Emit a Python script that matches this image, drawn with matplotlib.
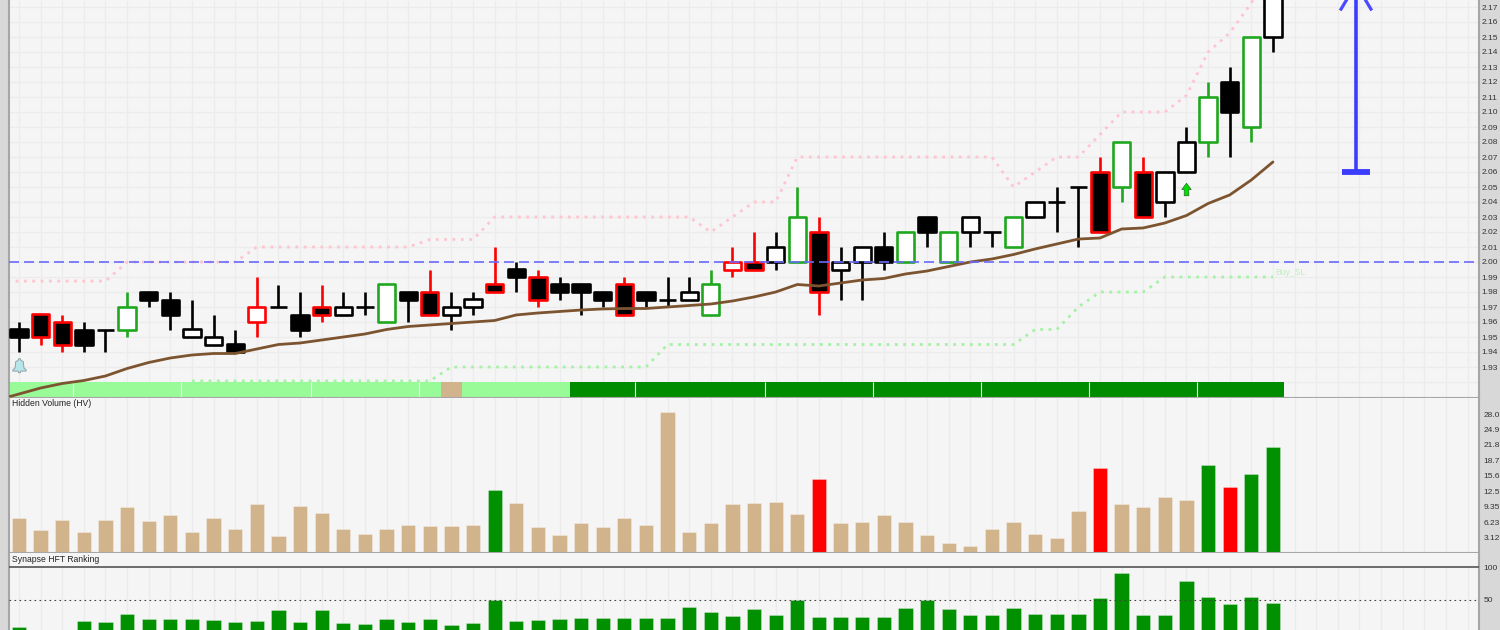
import matplotlib
matplotlib.use("Agg")
import matplotlib.pyplot as plt
from matplotlib.path import Path

plt.rcParams['font.family'] = ['Liberation Sans', 'DejaVu Sans']

opens = [1.955,1.965,1.96,1.955,1.955,1.955,1.98,1.975,1.95,1.945,1.945,1.96,1.97,1.965,1.97,1.965,1.97,1.96,1.98,1.98,
         1.965,1.97,1.985,1.995,1.99,1.985,1.985,1.98,1.985,1.98,1.975,1.975,1.965,1.995,2.00,2.00,2.00,2.02,1.995,2.00,
         2.01,2.00,2.03,2.00,2.02,2.02,2.01,2.03,2.04,2.05,2.06,2.05,2.06,2.04,2.06,2.08,2.12,2.09,2.15]
closes = [1.95,1.95,1.945,1.945,1.955,1.97,1.975,1.965,1.955,1.95,1.94,1.97,1.97,1.955,1.965,1.97,1.97,1.985,1.975,1.965,
          1.97,1.975,1.98,1.99,1.975,1.98,1.98,1.975,1.965,1.975,1.975,1.98,1.985,2.00,1.995,2.01,2.03,1.98,2.00,2.01,
          2.00,2.02,2.02,2.02,2.03,2.02,2.03,2.04,2.04,2.05,2.02,2.08,2.03,2.06,2.08,2.11,2.10,2.15,2.19]
highs = [1.96,1.965,1.965,1.96,1.955,1.98,1.98,1.98,1.975,1.965,1.955,1.99,1.985,1.98,1.985,1.98,1.98,1.985,1.98,1.995,
         1.98,1.98,2.01,2.00,1.995,1.99,1.985,1.98,1.99,1.98,1.99,1.99,1.995,2.01,2.02,2.02,2.05,2.03,2.01,2.01,
         2.02,2.02,2.03,2.02,2.03,2.02,2.03,2.04,2.05,2.05,2.07,2.08,2.07,2.06,2.09,2.12,2.13,2.15,2.19]
lows = [1.94,1.945,1.94,1.94,1.94,1.95,1.97,1.955,1.95,1.945,1.94,1.95,1.97,1.95,1.96,1.965,1.965,1.96,1.96,1.965,
        1.955,1.965,1.98,1.98,1.97,1.975,1.965,1.97,1.965,1.97,1.97,1.975,1.965,1.99,1.995,1.995,2.00,1.965,1.975,1.975,
        1.995,2.00,2.01,2.00,2.01,2.01,2.01,2.03,2.02,2.01,2.02,2.04,2.03,2.03,2.06,2.07,2.07,2.08,2.14]
signals = list("NRRNNGNNNNNRNNRNNGNRNNRNRNNNRNNNGRRNGRNNNGNGNNGNNNRGRNNGNGN")

trend = [1.908,1.912,1.916,1.919,1.921,1.924,1.929,1.933,1.936,1.938,1.939,1.939,1.942,1.945,1.946,1.948,1.950,1.952,1.955,1.957,
         1.958,1.959,1.960,1.961,1.9647,1.966,1.967,1.968,1.9687,1.969,1.969,1.970,1.971,1.972,1.974,1.9767,1.980,1.985,1.984,
         1.986,1.988,1.989,1.992,1.994,1.997,2.000,2.002,2.005,2.0087,2.012,2.0153,2.016,2.022,2.0227,2.026,2.031,2.039,2.0447,
         2.0547,2.0667]
sell_sl = [1.9873,1.9873,1.9873,1.9873,1.9873,1.9873,2.00,2.00,2.00,2.00,2.00,2.00,2.01,2.01,2.01,2.01,2.01,2.01,2.01,2.01,2.015,
           2.015,2.015,2.03,2.03,2.03,2.03,2.03,2.03,2.03,2.03,2.03,2.03,2.02,2.03,2.04,2.04,2.07,2.07,2.07,2.07,
           2.07,2.07,2.07,2.07,2.07,2.07,2.05,2.06,2.07,2.07,2.085,2.10,2.10,2.10,2.111,2.14,2.1527,2.1727,2.20]
buy_sl_start = 8
buy_sl = [1.9207]*12 + [1.93]*10 + [1.945]*17 + [1.955,1.955,1.97,1.98,1.98,1.98,1.99,1.99,1.99,1.99,1.99,1.99]

hv = [7.0,4.6,6.7,4.2,6.7,9.35,6.5,7.6,4.2,7.1,4.85,9.8,3.4,9.5,8.1,4.85,3.8,4.85,5.65,5.5,5.5,5.65,12.7,10.0,5.2,3.6,6.0,5.2,
      7.1,5.65,28.5,4.2,6.0,9.8,10.0,10.3,7.9,14.9,6.0,6.25,7.7,6.25,3.7,1.95,1.35,4.85,6.25,3.85,3.1,8.55,17.2,9.8,9.35,
      11.25,10.65,17.7,13.3,16.0,21.3]
hv_flags = list("TTTTTTTTTTTTTTTTTTTTTTGTTTTTTTTTTTTTTRTTTTTTTTTTTTRTTTTGRGG")
ranking = [8,0,0,17,15,28,20,20,20,18,15,17,34,15,34,14,12,20,15,20,11,14,49,17,18,20,22,22,22,22,22,38,31,25,35,26,49,23,23,
           23,23,37,49,35,26,26,37,28,28,28,52,91,26,26,78,54,43,54,45]
trend_band = list("LLLLLLLLLLLLLLLLLLLLTLLLLLDDDDDDDDDDDDDDDDDDDDDDDDDDDDDDDDDDD")[:59]
period_breaks = [2,7,13,18,28,34,39,44,49,54]

price_ticks = [1.93,1.94,1.95,1.96,1.97,1.98,1.99,2.00,2.01,2.02,2.03,2.04,2.05,2.06,2.07,2.08,2.09,2.10,2.11,2.12,2.13,2.14,2.15,2.16,2.17]
hv_ticks = [3.12,6.23,9.35,12.5,15.6,18.7,21.8,24.9,28.0]
hv_tick_labels = ["3.12","6.23","9.35","12.5","15.6","18.7","21.8","24.9","28.0"]
rank_ticks = [50,100]
ref_level = 2.00
target_x, target_low, target_high = 61.84, 2.06, 2.1853
signal_x, signal_y = 54, 2.0487
alert_x, alert_y = 0, 1.9313

W, H = 1500, 630
BG = '#f5f5f5'; GRID = '#ececec'
fig = plt.figure(figsize=(W/100, H/100), dpi=100, facecolor='#d8d8d8')

def panel(top, bottom, left=9, right=1479):
    ax = fig.add_axes([left/W, 1-bottom/H, (right-left)/W, (bottom-top)/H], facecolor=BG)
    ax.set_xlim(-0.4625, 67.53)
    ax.set_xticks([])
    ax.yaxis.tick_right()
    ax.tick_params(axis='y', length=0, labelsize=6.0, labelcolor='#333333', pad=2)
    for s in ax.spines.values():
        s.set_color('#a6a6a6'); s.set_linewidth(1.5)
    ax.spines['top'].set_visible(False)
    return ax

n = len(opens)
idx = list(range(n))
line_x = [-1] + idx
grid_x = list(range(68))

# ---------- price panel ----------
ax = panel(0, 398)
ax.set_ylim(2.0-136/1500, 2.0+262/1500)
ax.set_yticks(price_ticks)
ax.set_yticklabels([f"{t:.2f}" for t in price_ticks])
ax.vlines(grid_x, *ax.get_ylim(), color=GRID, lw=0.9, zorder=0)
ax.hlines(price_ticks + [2.18, 1.92], -1, 68, color=GRID, lw=0.9, zorder=0)

band_colors = {'L': '#98fb98', 'T': '#d2b48c', 'D': '#008c00'}
ax.bar(idx, [0.01]*n, bottom=1.91, width=1.0, color=[band_colors[c] for c in trend_band],
       linewidth=0, antialiased=False, zorder=1)
for b in period_breaks:
    ax.vlines(b+0.5, 1.91, 1.92, color='#f0fff0', lw=0.8, zorder=1.1)

ax.plot(line_x, sell_sl, color='#ffc4cf', lw=2, ls=(0, (1, 2)), zorder=1.5)
ax.plot(idx[buy_sl_start:], buy_sl, color='#a4f2a4', lw=2, ls=(0, (1, 2)), zorder=1.5)
ax.text(58.1, 1.9933, 'Buy_SL', color='#c4eac4', fontsize=6.2, va='center', ha='left', zorder=2)

edge_map = {'N': '#000000', 'R': '#ff0000', 'G': '#1fa81f'}
edges = [edge_map[s] for s in signals]
ax.vlines(idx, lows, highs, colors=edges, lw=1.9, zorder=3, capstyle='butt')
bots = [min(o, c) for o, c in zip(opens, closes)]
hts = [abs(c-o) for o, c in zip(opens, closes)]
fills = ['#000000' if c < o else '#ffffff' for o, c in zip(opens, closes)]
bars = ax.bar(idx, hts, bottom=bots, width=0.80, color=fills, edgecolor=edges, linewidth=1.9, zorder=4)
for b in bars:
    b.set_joinstyle('round')

ax.plot(line_x, trend, color='#7d5430', lw=2, zorder=5, solid_capstyle='round')
ax.axhline(ref_level, color='#6a6aff', lw=1.2, ls=(0, (6, 3)), zorder=6)

# target arrow
ax.vlines(target_x, target_low, target_high, color='#3c3cff', lw=2.6, zorder=6)
ax.hlines(target_low, target_x-0.65, target_x+0.65, color='#3c3cff', lw=4.2, zorder=6)
ax.plot([target_x-0.69, target_x, target_x+0.69], [target_high-0.0167, target_high, target_high-0.0167],
        color='#4a4aff', lw=2.3, zorder=6)

# signal arrow and alert bell
arrow = Path([(-.22,-.6),(.22,-.6),(.22,0),(.45,0),(0,.6),(-.45,0),(-.22,0),(-.22,-.6)], closed=True)
ax.plot([signal_x], [signal_y], marker=arrow, ms=9, color='#00e000', mec='#2a6a2a', mew=0.5, zorder=6)
bell = Path([(-.08,.5),(.08,.5),(.1,.38),(.28,.3),(.34,-.2),(.5,-.32),(.5,-.42),(.1,-.42),(.06,-.55),(-.06,-.55),
             (-.1,-.42),(-.5,-.42),(-.5,-.32),(-.34,-.2),(-.28,.3),(-.1,.38),(-.08,.5)], closed=True)
ax.plot([alert_x], [alert_y], marker=bell, ms=10.5, color='#b6e6ea', mec='#8f9fa6', mew=0.7, zorder=6)

# ---------- hidden volume ----------
ax2 = panel(398, 553)
ax2.set_ylim(0, 155/4.96)
ax2.set_yticks(hv_ticks)
ax2.set_yticklabels(hv_tick_labels)
ax2.tick_params(axis='y', pad=3.4)
ax2.vlines(grid_x, *ax2.get_ylim(), color='#ebebeb', lw=0.9, zorder=0)
hv_map = {'T': '#d2b48c', 'G': '#009000', 'R': '#ff0000'}
ax2.bar(idx, hv, width=0.66, color=[hv_map[f] for f in hv_flags], edgecolor='#ffffff66', linewidth=0.5, zorder=2)
ax2.text(12/W, 1-404/H, 'Hidden Volume (HV)', transform=fig.transFigure, fontsize=6.2, color='#222222', va='center', ha='left', zorder=10)

# ---------- ranking ----------
ax3 = panel(553, 630)
ax3.spines['bottom'].set_visible(False)
ax3.set_ylim((632-630)/0.65, (632-553)/0.65)
ax3.set_yticks(rank_ticks)
ax3.set_yticklabels([str(t) for t in rank_ticks])
ax3.tick_params(axis='y', pad=3.4)
ax3.vlines(grid_x, 0, 100, color='#ebebeb', lw=0.9, zorder=0)
ax3.bar(idx, ranking, width=0.66, color='#009000', edgecolor='#ffffff66', linewidth=0.5, zorder=2)
ax3.axhline(100, color='#555555', lw=1.2, zorder=3)
ax3.axhline(50, color='#444444', lw=0.8, ls=(0, (1.5, 3)), zorder=3)
ax3.text(12/W, 1-560/H, 'Synapse HFT Ranking', transform=fig.transFigure, fontsize=6.2, color='#222222', va='center', ha='left', zorder=10)

fig.savefig('out.png', dpi=100, facecolor=fig.get_facecolor())
